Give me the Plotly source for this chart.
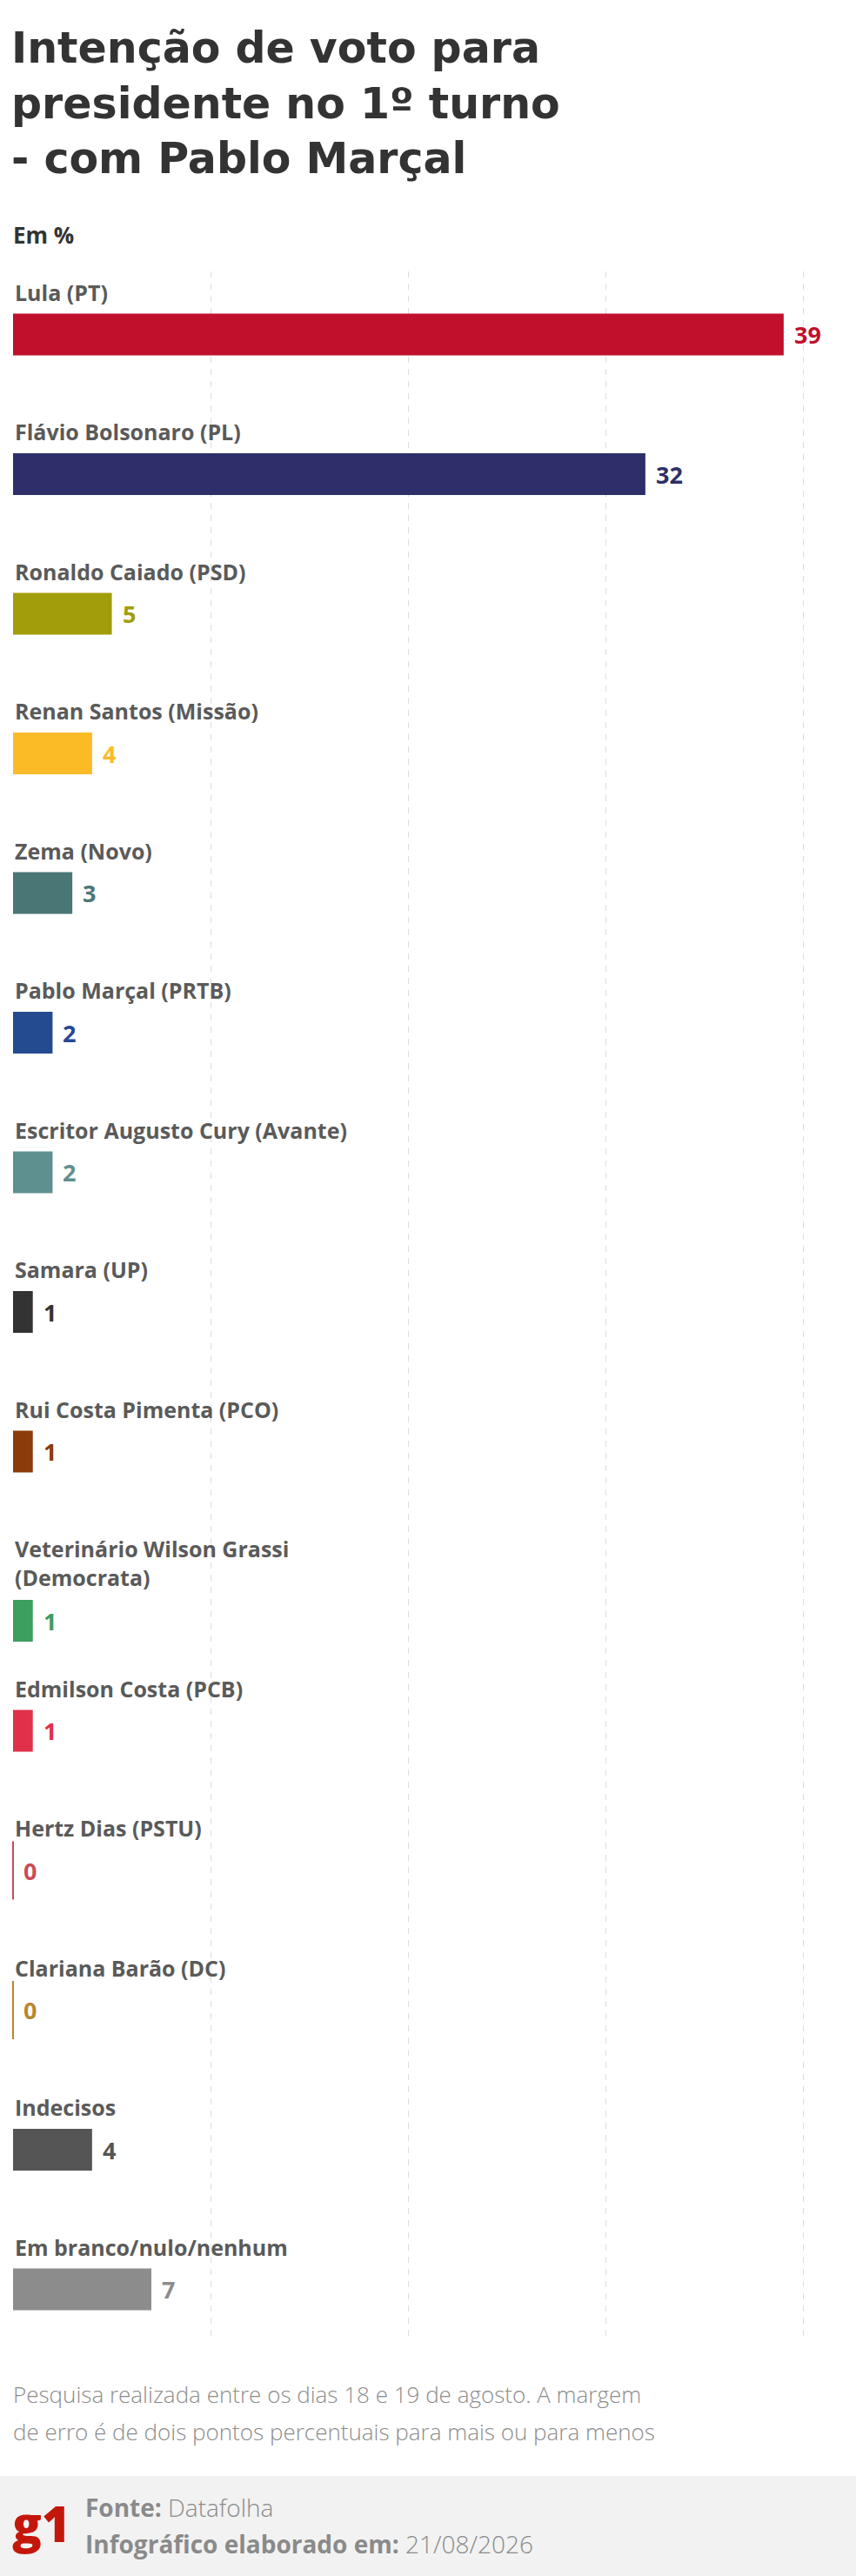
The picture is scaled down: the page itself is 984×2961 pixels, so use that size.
import plotly.graph_objects as go

# ---------------- data ----------------
title_lines = ["Intenção de voto para", "presidente no 1º turno", "- com Pablo Marçal"]
subtitle = "Em %"
candidates = [
    "Lula (PT)",
    "Flávio Bolsonaro (PL)",
    "Ronaldo Caiado (PSD)",
    "Renan Santos (Missão)",
    "Zema (Novo)",
    "Pablo Marçal (PRTB)",
    "Escritor Augusto Cury (Avante)",
    "Samara (UP)",
    "Rui Costa Pimenta (PCO)",
    "Veterinário Wilson Grassi<br>(Democrata)",
    "Edmilson Costa (PCB)",
    "Hertz Dias (PSTU)",
    "Clariana Barão (DC)",
    "Indecisos",
    "Em branco/nulo/nenhum",
]
values = [39, 32, 5, 4, 3, 2, 2, 1, 1, 1, 1, 0, 0, 4, 7]
bar_colors = [
    "#c0102c", "#2e2f6a", "#a19e0b", "#fbbb27", "#4a7676",
    "#244a8f", "#5e9090", "#333333", "#8b3a0a", "#3c9e5f",
    "#e0304a", "#c94b55", "#b8872e", "#555555", "#8c8c8c",
]
footnote_lines = [
    "Pesquisa realizada entre os dias 18 e 19 de agosto. A margem",
    "de erro é de dois pontos percentuais para mais ou para menos",
]
source_label = "Fonte:"
source_value = "Datafolha"
date_label = "Infográfico elaborado em:"
date_value = "21/08/2026"

# ---------------- layout geometry (pixels) ----------------
W, H = 984, 2961
PLOT_TOP, PLOT_BOTTOM = 312, 2688
MARGIN_L, MARGIN_R = 15, 15
ROW_PX = 160.5
FIRST_CENTER = 384.5
BAR_PX = 48
LINE_PX = 34
PLOT_H = PLOT_BOTTOM - PLOT_TOP
PLOT_W = W - MARGIN_L - MARGIN_R
X_MAX = 42

r0 = -(FIRST_CENTER - PLOT_TOP) / ROW_PX
r1 = r0 + PLOT_H / ROW_PX
bar_w = BAR_PX / ROW_PX

FONT = "Open Sans"
TITLE_FONT = "DejaVu Sans"


def py(y_px):
    return (PLOT_BOTTOM - y_px) / PLOT_H


def px(x_px):
    return (x_px - MARGIN_L) / PLOT_W


extra_lines = [c.count("<br>") for c in candidates]
offsets = [-bar_w / 2 + n * LINE_PX / ROW_PX for n in extra_lines]

fig = go.Figure()

fig.add_trace(go.Bar(
    x=values,
    y=candidates,
    orientation="h",
    width=bar_w,
    offset=offsets,
    marker=dict(color=bar_colors, line=dict(width=0)),
    hoverinfo="skip",
    showlegend=False,
))

# zero-value bars drawn as thin vertical strokes
zero_x = [v for v in values if v == 0]
zero_y = [c for c, v in zip(candidates, values) if v == 0]
zero_c = [col for col, v in zip(bar_colors, values) if v == 0]
fig.add_trace(go.Scatter(
    x=zero_x,
    y=zero_y,
    mode="markers",
    marker=dict(symbol="line-ns", size=BAR_PX, color=zero_c,
                line=dict(width=2, color=zero_c)),
    hoverinfo="skip",
    showlegend=False,
    cliponaxis=False,
))

annotations = []

# category labels above bars and value labels
for cat, val, col, n in zip(candidates, values, bar_colors, extra_lines):
    annotations.append(dict(
        x=0, y=cat, xref="x", yref="y",
        text=cat, showarrow=False,
        xanchor="left", yanchor="top", align="left",
        yshift=51 + 17,
        font=dict(family=FONT, size=25, color="#5a5a5a", weight=700),
    ))
    annotations.append(dict(
        x=val, y=cat, xref="x", yref="y",
        text=str(val), showarrow=False,
        xanchor="left", yanchor="middle",
        xshift=10, yshift=-n * LINE_PX,
        font=dict(family=FONT, size=27, color=col, weight=700),
    ))

# title (one block, three lines)
annotations.append(dict(
    x=px(11), y=py(119), xref="paper", yref="paper",
    text="<br>".join(title_lines), showarrow=False,
    xanchor="left", yanchor="middle", align="left",
    font=dict(family=TITLE_FONT, size=49, color="#333333", weight=700),
))

annotations.append(dict(
    x=px(13), y=py(270), xref="paper", yref="paper",
    text=subtitle, showarrow=False, xanchor="left", yanchor="middle",
    font=dict(family=FONT, size=26, color="#333333", weight=700),
))

for line, yc in zip(footnote_lines, [2752, 2795]):
    annotations.append(dict(
        x=px(13), y=py(yc), xref="paper", yref="paper",
        text=line, showarrow=False, xanchor="left", yanchor="middle",
        font=dict(family=FONT, size=26, color="#8c8c8c", weight=300),
    ))

annotations.append(dict(
    x=px(12), y=py(2900), xref="paper", yref="paper",
    text="g1", showarrow=False, xanchor="left", yanchor="middle",
    font=dict(family=FONT, size=56, color="#c4170c", weight=800),
))
footer_lines = [
    f"<b>{source_label}</b> {source_value}",
    f"<b>{date_label}</b> {date_value}",
]
for line, yc in zip(footer_lines, [2882, 2924]):
    annotations.append(dict(
        x=px(96), y=py(yc), xref="paper", yref="paper",
        text=line, showarrow=False, xanchor="left", yanchor="middle",
        font=dict(family=FONT, size=28, color="#8a8a8a", weight=300),
    ))

shapes = [dict(
    type="rect", xref="paper", yref="paper",
    x0=px(0), x1=px(W), y0=py(H), y1=py(2846),
    fillcolor="#f2f2f2", line=dict(width=0), layer="below",
)]

fig.update_layout(
    width=W, height=H,
    margin=dict(l=MARGIN_L, r=MARGIN_R, t=PLOT_TOP, b=H - PLOT_BOTTOM, pad=0),
    paper_bgcolor="white", plot_bgcolor="white",
    showlegend=False,
    hovermode=False,
    annotations=annotations,
    shapes=shapes,
    xaxis=dict(
        range=[0, X_MAX], tick0=0, dtick=10,
        showgrid=True, gridcolor="#dcdcdc", gridwidth=1, griddash="7px,7px",
        zeroline=False, showticklabels=False, ticks="", showline=False,
        fixedrange=True,
    ),
    yaxis=dict(
        type="category",
        categoryorder="array", categoryarray=candidates,
        range=[r1, r0],
        showgrid=False, zeroline=False, showticklabels=False, ticks="",
        showline=False, fixedrange=True,
    ),
    font=dict(family=FONT),
)

fig.write_html(
    "out.html",
    config={"displayModeBar": False},
    post_script="document.body.style.margin='0';document.body.style.overflow='hidden';",
)
